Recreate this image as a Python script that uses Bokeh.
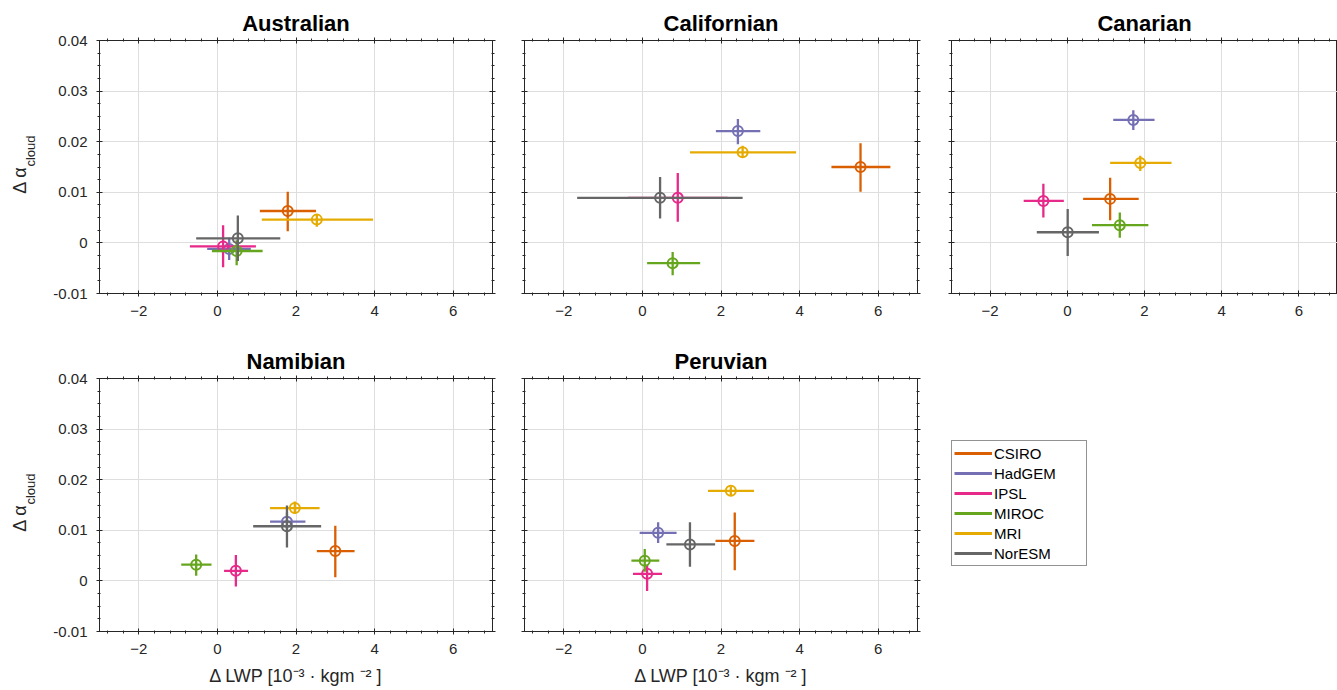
import math
from bokeh.plotting import figure
from bokeh.layouts import column, row
from bokeh.models import (Range1d, LinearAxis, SingleIntervalTicker, CustomJSTickFormatter,
                          Legend, LegendItem, ColumnDataSource)
from bokeh.core.properties import value
from bokeh.embed import file_html
from bokeh.resources import INLINE

# ---------------- data ----------------
models = ["CSIRO", "HadGEM", "IPSL", "MIROC", "MRI", "NorESM"]
colors = ["#d95f02", "#7570b3", "#e7298a", "#66a61e", "#e6ab02", "#666666"]
regions = ["Australian", "Californian", "Canarian", "Namibian", "Peruvian"]

# order of every list: CSIRO, HadGEM, IPSL, MIROC, MRI, NorESM
aus_x = [1.79, 0.30, 0.145, 0.49, 2.53, 0.52]
aus_y = [0.0063, -0.0012, -0.0007, -0.0016, 0.0046, 0.0009]
aus_xlo = [1.08, -0.26, -0.70, -0.14, 1.13, -0.54]
aus_xhi = [2.51, 0.85, 0.98, 1.15, 3.96, 1.60]
aus_ylo = [0.0023, -0.0034, -0.0048, -0.0044, 0.0032, -0.0036]
aus_yhi = [0.0101, 0.0010, 0.0035, 0.0005, 0.0056, 0.0054]

cal_x = [5.55, 2.43, 0.90, 0.77, 2.55, 0.45]
cal_y = [0.0150, 0.0221, 0.0089, -0.0040, 0.0179, 0.0089]
cal_xlo = [4.81, 1.87, -0.37, 0.12, 1.21, -1.66]
cal_xhi = [6.31, 3.00, 2.17, 1.47, 3.91, 2.55]
cal_ylo = [0.0101, 0.0195, 0.0042, -0.0064, 0.0168, 0.0048]
cal_yhi = [0.0197, 0.0245, 0.0138, -0.0018, 0.0192, 0.0130]

can_x = [1.11, 1.71, -0.62, 1.36, 1.89, 0.01]
can_y = [0.0087, 0.0243, 0.0083, 0.0035, 0.0158, 0.0021]
can_xlo = [0.41, 1.19, -1.13, 0.64, 1.11, -0.79]
can_xhi = [1.85, 2.26, -0.09, 2.10, 2.70, 0.82]
can_ylo = [0.0045, 0.0223, 0.0050, 0.0010, 0.0142, -0.0026]
can_yhi = [0.0129, 0.0262, 0.0117, 0.0060, 0.0172, 0.0067]

nam_x = [3.00, 1.77, 0.47, -0.54, 1.97, 1.77]
nam_y = [0.0059, 0.0117, 0.0020, 0.0032, 0.0144, 0.0108]
nam_xlo = [2.53, 1.34, 0.17, -0.92, 1.34, 0.91]
nam_xhi = [3.49, 2.24, 0.78, -0.15, 2.60, 2.64]
nam_ylo = [0.0007, 0.0100, -0.0011, 0.0010, 0.0132, 0.0066]
nam_yhi = [0.0109, 0.0135, 0.0051, 0.0052, 0.0157, 0.0149]

per_x = [2.35, 0.40, 0.12, 0.06, 2.25, 1.21]
per_y = [0.0079, 0.0095, 0.0014, 0.0040, 0.0178, 0.0072]
per_xlo = [1.86, -0.07, -0.24, -0.28, 1.67, 0.61]
per_xhi = [2.85, 0.87, 0.50, 0.43, 2.84, 1.85]
per_ylo = [0.0021, 0.0075, -0.0020, 0.0018, 0.0168, 0.0028]
per_yhi = [0.0135, 0.0116, 0.0032, 0.0063, 0.0186, 0.0116]

x_label = "\u0394 LWP [10\u207b\u00b3 \u00b7 kgm \u207b\u00b2 ]"
y_label_main = "\u0394 \u03b1"
y_label_sub = "cloud"
X_MIN, X_MAX = -3, 7
Y_MIN, Y_MAX = -0.01, 0.04

# ---------------- styling ----------------
FONT = "Liberation Sans"
AX = "#262626"
GRID = "#dedede"
FRAME_H = 253
LAB_W = 48  # width of the strip holding the rotated y label

y_fmt = CustomJSTickFormatter(code="""
    const v = Math.round(tick * 100) / 100;
    return Math.abs(v) < 1e-9 ? "0" : String(v);
""")


def blank_fmt():
    return CustomJSTickFormatter(code="return '';")


def style_axis(ax, ticker, show_labels, formatter=None):
    ax.ticker = ticker
    ax.axis_line_color = AX
    ax.axis_line_width = 1
    ax.major_tick_line_color = AX
    ax.minor_tick_line_color = AX
    ax.major_tick_in = 3
    ax.major_tick_out = 3
    ax.minor_tick_in = 1
    ax.minor_tick_out = 2
    ax.major_label_text_font = FONT
    ax.major_label_text_color = AX
    ax.major_label_text_font_size = "15px"
    if show_labels:
        if formatter is not None:
            ax.formatter = formatter
        ax.major_label_standoff = 9
    else:
        ax.formatter = blank_fmt()
        ax.major_label_standoff = 0


def make_panel(name, xs, ys, xlo, xhi, ylo, yhi, bl, fw, br, bt, bb,
               ylabels, xlabel, right_axis=True):
    p = figure(frame_width=fw, frame_height=FRAME_H,
               x_range=Range1d(X_MIN, X_MAX), y_range=Range1d(Y_MIN, Y_MAX),
               output_backend="svg", toolbar_location=None,
               min_border_left=bl, min_border_right=br,
               min_border_top=bt, min_border_bottom=bb,
               background_fill_color="white", border_fill_color="white",
               outline_line_color=AX, outline_line_width=1)
    bottom = p.below[0]
    left = p.left[0]
    xt = SingleIntervalTicker(interval=2, num_minor_ticks=5)
    yt = SingleIntervalTicker(interval=0.01, num_minor_ticks=4)
    style_axis(bottom, xt, True)
    style_axis(left, yt, ylabels, y_fmt)
    top = LinearAxis()
    style_axis(top, SingleIntervalTicker(interval=2, num_minor_ticks=5), False)
    p.add_layout(top, "above")
    if right_axis:
        rgt = LinearAxis()
        style_axis(rgt, SingleIntervalTicker(interval=0.01, num_minor_ticks=4), False)
        p.add_layout(rgt, "right")
    p.xgrid.ticker = xt
    p.ygrid.ticker = yt
    p.grid.grid_line_color = GRID
    p.grid.grid_line_width = 1

    p.title.text = name
    p.title.align = "center"
    p.title.text_font = FONT
    p.title.text_font_size = "22px"
    p.title.text_font_style = "bold"
    p.title.text_color = "black"
    p.title.standoff = 3

    if xlabel:
        bottom.axis_label = x_label
        bottom.axis_label_text_font = FONT
        bottom.axis_label_text_font_size = "18px"
        bottom.axis_label_text_font_style = "normal"
        bottom.axis_label_text_color = AX
        bottom.axis_label_standoff = 9

    for i, m in enumerate(models):
        src = ColumnDataSource(dict(x=[xs[i]], y=[ys[i]], xlo=[xlo[i]], xhi=[xhi[i]],
                                    ylo=[ylo[i]], yhi=[yhi[i]]))
        c = colors[i]
        p.segment(x0="xlo", y0="y", x1="xhi", y1="y", source=src,
                  line_color=c, line_width=2.3)
        p.segment(x0="x", y0="ylo", x1="x", y1="yhi", source=src,
                  line_color=c, line_width=2.3)
        p.scatter(x="x", y="y", source=src, marker="circle", size=10,
                  fill_color=None, line_color=c, line_width=2)
    return p


def make_ylabel(bt, bb):
    # narrow strip left of the first column that carries the rotated y label
    q = figure(frame_width=LAB_W, frame_height=FRAME_H,
               x_range=Range1d(0, LAB_W), y_range=Range1d(0, FRAME_H),
               output_backend="svg", toolbar_location=None,
               min_border_left=0, min_border_right=0, min_border_top=bt, min_border_bottom=bb,
               x_axis_location=None, y_axis_location=None, outline_line_color=None)
    q.grid.visible = False
    mid = FRAME_H / 2
    q.text(x=[19], y=[mid - 13], text=[y_label_main], angle=math.pi / 2,
           text_align="center", text_baseline="middle", text_font=value(FONT),
           text_font_size="18px", text_color=AX)
    q.text(x=[30], y=[mid + 16], text=[y_label_sub], angle=math.pi / 2,
           text_align="center", text_baseline="middle", text_font=value(FONT),
           text_font_size="13px", text_color=AX)
    return q


r1_top, r1_bot = 40, 30
r2_top, r2_bot = 55, 61
BL1 = 99 - LAB_W

p1 = make_panel(regions[0], aus_x, aus_y, aus_xlo, aus_xhi, aus_ylo, aus_yhi,
                BL1, 393, 16, r1_top, r1_bot, True, False)
p2 = make_panel(regions[1], cal_x, cal_y, cal_xlo, cal_xhi, cal_ylo, cal_yhi,
                16, 393, 17, r1_top, r1_bot, False, False)
p3 = make_panel(regions[2], can_x, can_y, can_xlo, can_xhi, can_ylo, can_yhi,
                17, 386, 0, r1_top, r1_bot, False, False, right_axis=False)
p4 = make_panel(regions[3], nam_x, nam_y, nam_xlo, nam_xhi, nam_ylo, nam_yhi,
                BL1, 393, 16, r2_top, r2_bot, True, True)
p5 = make_panel(regions[4], per_x, per_y, per_xlo, per_xhi, per_ylo, per_yhi,
                16, 393, 17, r2_top, r2_bot, False, True)
lab1 = make_ylabel(r1_top, r1_bot)
lab2 = make_ylabel(r2_top, r2_bot)

# legend panel
p6 = figure(frame_width=386, frame_height=FRAME_H, x_range=Range1d(0, 1), y_range=Range1d(0, 1),
            output_backend="svg", toolbar_location=None,
            min_border_left=17, min_border_right=0, min_border_top=r2_top, min_border_bottom=r2_bot,
            x_axis_location=None, y_axis_location=None, outline_line_color=None)
p6.grid.visible = False
items = []
for i, m in enumerate(models):
    r = p6.line(x=[float("nan")], y=[float("nan")], line_color=colors[i], line_width=3)
    items.append(LegendItem(label=m, renderers=[r]))
leg = Legend(items=items, location=(0, 65), margin=0, padding=2, spacing=0,
             glyph_width=38, glyph_height=20, label_height=20, label_width=90,
             label_standoff=2, label_text_font=FONT, label_text_font_size="15px",
             label_text_color="black", border_line_color=AX, border_line_width=1,
             background_fill_color="white", background_fill_alpha=1)
p6.add_layout(leg)

layout = column(row(lab1, p1, p2, p3), row(lab2, p4, p5, p6))
open("out.html", "w").write(file_html(layout, INLINE))
